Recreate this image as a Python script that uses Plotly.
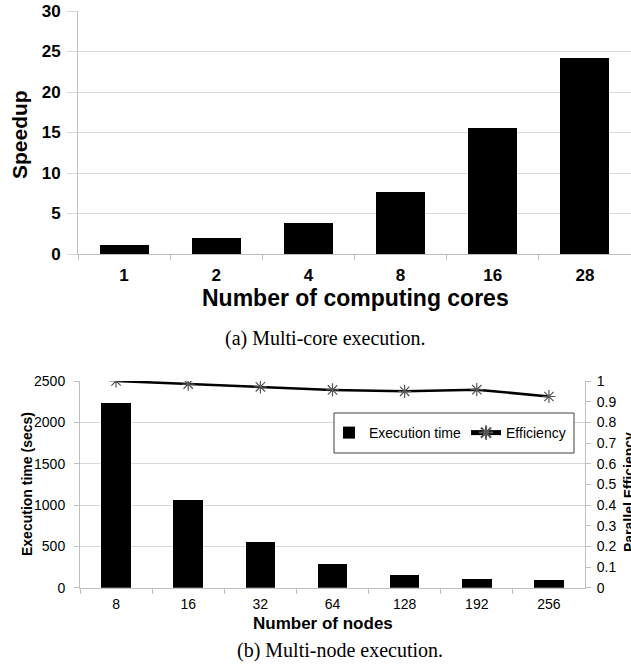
import plotly.graph_objects as go

# ---- data ----
cores = ["1", "2", "4", "8", "16", "28"]
speedup = [1.15, 1.93, 3.87, 7.6, 15.6, 24.2]

nodes = ["8", "16", "32", "64", "128", "192", "256"]
exec_time = [2235, 1065, 552, 290, 150, 105, 90]
efficiency = [1.0, 0.985, 0.972, 0.957, 0.95, 0.958, 0.925]

W, H = 631, 665
def px(x):
    return x / W
def py(y):
    return 1 - y / H

GRID = "#d9d9d9"
AXIS = "#bfbfbf"
SANS = "Liberation Sans, Arial, sans-serif"
SERIF = "Liberation Serif, Times New Roman, serif"

fig = go.Figure()

fig.add_trace(go.Bar(x=cores, y=speedup, marker=dict(color="black", line=dict(width=0)),
                     width=0.53, xaxis="x", yaxis="y", showlegend=False))

fig.add_trace(go.Bar(x=nodes, y=exec_time, marker=dict(color="black", line=dict(width=0)),
                     width=0.41, xaxis="x2", yaxis="y2", name="Execution time"))
fig.add_trace(go.Scatter(x=nodes, y=efficiency, mode="lines+markers", name="Efficiency",
                         line=dict(color="black", width=2.5),
                         marker=dict(symbol="asterisk-open", size=11, color="#555555",
                                     line=dict(color="#555555", width=1.2)),
                         xaxis="x2", yaxis="y3"))

fig.update_layout(
    width=W, height=H, margin=dict(l=0, r=0, t=0, b=0, autoexpand=False),
    paper_bgcolor="white", plot_bgcolor="white",
    bargap=0,
    xaxis=dict(domain=[px(78), 1], type="category", range=[-0.5, 5.5], anchor="y",
               automargin=False,
               showline=True, linecolor=AXIS, linewidth=1, tickson="boundaries",
               ticks="outside", ticklen=5, tickcolor=AXIS, showgrid=False,
               tickfont=dict(family=SANS, size=17, color="black", weight="bold"),
               ticklabelstandoff=6),
    yaxis=dict(domain=[py(254), py(11)], range=[0, 30], dtick=5, anchor="x",
               automargin=False,
               showline=True, linecolor=AXIS, linewidth=1, ticks="outside", ticklen=10,
               tickcolor=GRID, gridcolor=GRID, gridwidth=1, zeroline=False,
               tickfont=dict(family=SANS, size=17, color="black", weight="bold"),
               ticklabelstandoff=3),
    xaxis2=dict(domain=[px(80), px(585)], type="category", range=[-0.5, 6.5], anchor="y2",
                automargin=False,
                showline=True, linecolor=AXIS, linewidth=1, tickson="boundaries",
                ticks="outside", ticklen=5, tickcolor=AXIS, showgrid=False,
                tickfont=dict(family=SANS, size=14, color="black"),
                ticklabelstandoff=3),
    yaxis2=dict(domain=[py(587.7), py(381)], range=[0, 2500], dtick=500, anchor="x2",
                automargin=False,
                showline=True, linecolor=AXIS, linewidth=1, ticks="outside", ticklen=5,
                tickcolor=AXIS, gridcolor=GRID, gridwidth=1, zeroline=False,
                tickfont=dict(family=SANS, size=14, color="black"),
                ticklabelstandoff=6),
    yaxis3=dict(domain=[py(587.7), py(381)], range=[0, 1], dtick=0.1, anchor="x2",
                automargin=False,
                overlaying="y2", side="right",
                showline=True, linecolor=AXIS, linewidth=1, ticks="outside", ticklen=5,
                tickcolor=AXIS, showgrid=False, zeroline=False,
                tickfont=dict(family=SANS, size=14, color="black"),
                ticklabelstandoff=3),
    legend=dict(orientation="h", x=px(329), y=py(433), xanchor="left", yanchor="middle",
                bgcolor="rgba(0,0,0,0)", borderwidth=0,
                font=dict(family=SANS, size=14, color="black"),
                itemsizing="constant", tracegroupgap=0),
    shapes=[dict(type="rect", xref="paper", yref="paper",
                 x0=px(334), x1=px(574), y0=py(453), y1=py(413),
                 fillcolor="white", line=dict(color="#404040", width=1), layer="above")],
)

ann = [
    dict(text="<b>Speedup</b>", x=px(20), y=py(135), textangle=-90,
         font=dict(family=SANS, size=21, color="black")),
    dict(text="<b>Number of computing cores</b>", x=px(356), y=py(298),
         font=dict(family=SANS, size=23, color="black")),
    dict(text="(a) Multi-core execution.", x=px(325), y=py(338),
         font=dict(family=SERIF, size=20, color="black")),
    dict(text="<b>Execution time (secs)</b>", x=px(27), y=py(484), textangle=-90,
         font=dict(family=SANS, size=14, color="black")),
    dict(text="<b>Parallel Efficiency</b>", x=px(629), y=py(492), textangle=-90,
         font=dict(family=SANS, size=14, color="black")),
    dict(text="<b>Number of nodes</b>", x=px(323), y=py(623),
         font=dict(family=SANS, size=17, color="black")),
    dict(text="(b) Multi-node execution.", x=px(340), y=py(650),
         font=dict(family=SERIF, size=20, color="black")),
]
for a in ann:
    a.update(xref="paper", yref="paper", showarrow=False, xanchor="center", yanchor="middle")
fig.update_layout(annotations=ann)

fig.write_html("out.html", config={"displayModeBar": False},
               post_script="document.body.style.margin='0px';document.body.style.padding='0px';")
